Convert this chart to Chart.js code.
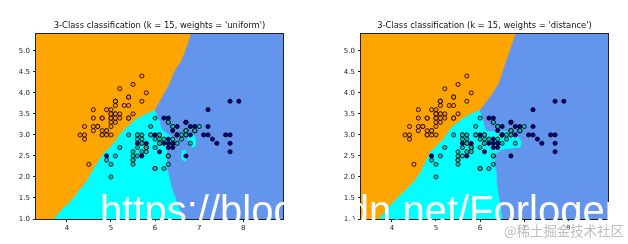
<!DOCTYPE html>
<html>
<head>
<meta charset="utf-8">
<script src="https://cdn.jsdelivr.net/npm/chart.js@4.4.0/dist/chart.umd.min.js"></script>
<style>
  body { margin: 0; background: #fff; }
  #page { position: relative; width: 628px; height: 244px; overflow: hidden; }
  .panel { position: absolute; top: 0; width: 314px; height: 244px; }
  #blogMark { position: absolute; left: 100px; top: 190px; font: 40px 'Liberation Sans', Arial, sans-serif; line-height: 40px; color: #fff; white-space: nowrap; }
  #siteMark { position: absolute; left: 504px; top: 222px; font: 13.4px 'Noto Sans CJK SC', sans-serif; line-height: 16px; color: #bdbdbd; white-space: nowrap; }
</style>
</head>
<body>
<div id="page">
  <div class="panel" style="left:0"><canvas id="knnUniform"></canvas></div>
  <div class="panel" style="left:314px"><canvas id="knnDistance"></canvas></div>
  <div id="blogMark">https://blog.csdn.net/Forlogen</div>
  <div id="siteMark">@稀土掘金技术社区</div>
</div>
<script>
// iris, sepal length (x) / sepal width (y)
const setosaX = [5.1,4.9,4.7,4.6,5.0,5.4,4.6,5.0,4.4,4.9,5.4,4.8,4.8,4.3,5.8,5.7,5.4,5.1,5.7,5.1,5.4,5.1,4.6,5.1,4.8,5.0,5.0,5.2,5.2,4.7,4.8,5.4,5.2,5.5,4.9,5.0,5.5,4.9,4.4,5.1,5.0,4.5,4.4,5.0,5.1,4.8,5.1,4.6,5.3,5.0];
const setosaY = [3.5,3.0,3.2,3.1,3.6,3.9,3.4,3.4,2.9,3.1,3.7,3.4,3.0,3.0,4.0,4.4,3.9,3.5,3.8,3.8,3.4,3.7,3.6,3.3,3.4,3.0,3.4,3.5,3.4,3.2,3.1,3.4,4.1,4.2,3.1,3.2,3.5,3.6,3.0,3.4,3.5,2.3,3.2,3.5,3.8,3.0,3.8,3.2,3.7,3.3];
const versicolorX = [7.0,6.4,6.9,5.5,6.5,5.7,6.3,4.9,6.6,5.2,5.0,5.9,6.0,6.1,5.6,6.7,5.6,5.8,6.2,5.6,5.9,6.1,6.3,6.1,6.4,6.6,6.8,6.7,6.0,5.7,5.5,5.5,5.8,6.0,5.4,6.0,6.7,6.3,5.6,5.5,5.5,6.1,5.8,5.0,5.6,5.7,5.7,6.2,5.1,5.7];
const versicolorY = [3.2,3.2,3.1,2.3,2.8,2.8,3.3,2.4,2.9,2.7,2.0,3.0,2.2,2.9,2.9,3.1,3.0,2.7,2.2,2.5,3.2,2.8,2.5,2.8,2.9,3.0,2.8,3.0,2.9,2.6,2.4,2.4,2.7,2.7,3.0,3.4,3.1,2.3,3.0,2.5,2.6,3.0,2.6,2.3,2.7,3.0,2.9,2.9,2.5,2.8];
const virginicaX = [6.3,5.8,7.1,6.3,6.5,7.6,4.9,7.3,6.7,7.2,6.5,6.4,6.8,5.7,5.8,6.4,6.5,7.7,7.7,6.0,6.9,5.6,7.7,6.3,6.7,7.2,6.2,6.1,6.4,7.2,7.4,7.9,6.4,6.3,6.1,7.7,6.3,6.4,6.0,6.9,6.7,6.9,5.8,6.8,6.7,6.7,6.3,6.5,6.2,5.9];
const virginicaY = [3.3,2.7,3.0,2.9,3.0,3.0,2.5,2.9,2.5,3.6,3.2,2.7,3.0,2.5,2.8,3.2,3.0,3.8,2.6,2.2,3.2,2.8,2.8,2.7,3.3,3.2,2.8,3.0,2.8,3.0,2.8,3.8,2.8,2.8,2.6,3.0,3.4,3.1,3.0,3.1,3.1,3.1,2.7,3.2,3.3,3.0,2.5,3.0,3.4,3.0];

const xRange = [3.3, 8.9];
const yRange = [1.0, 5.4];
const xTicks = [4, 5, 6, 7, 8];
const yTicks = [1.0, 1.5, 2.0, 2.5, 3.0, 3.5, 4.0, 4.5, 5.0];

// decision boundaries, bottom -> top
const uniformOrangeEdge = [[3.69,1.00],[3.83,1.18],[3.98,1.33],[4.13,1.49],[4.27,1.69],[4.43,1.89],[4.58,2.17],[4.69,2.36],[4.82,2.56],[4.95,2.69],[5.08,2.84],[5.23,3.07],[5.41,3.24],[5.57,3.39],[5.79,3.51],[5.98,3.59],[6.03,3.69],[6.11,3.83],[6.20,4.00],[6.29,4.16],[6.35,4.31],[6.38,4.40],[6.47,4.59],[6.59,4.78],[6.68,5.02],[6.80,5.40]];
const uniformCyanEdge = [[5.98,3.59],[6.02,3.50],[6.09,3.33],[6.13,3.16],[6.22,3.07],[6.34,2.97],[6.36,2.83],[6.29,2.69],[6.25,2.57],[6.25,2.40],[6.27,2.21],[6.32,1.98],[6.36,1.76],[6.43,1.57],[6.51,1.33],[6.59,1.14],[6.63,1.00]];
const uniformCyanIslands = [
    [[6.74,3.05],[6.82,3.06],[6.90,2.95],[6.92,2.76],[6.85,2.70],[6.78,2.78],[6.74,2.92]],
    [[6.60,2.62],[6.68,2.64],[6.72,2.52],[6.70,2.38],[6.63,2.40],[6.59,2.50]]
];

const distanceOrangeEdge = [[3.69,1.00],[3.73,1.05],[3.88,1.25],[4.03,1.41],[4.18,1.57],[4.34,1.73],[4.49,1.89],[4.64,2.12],[4.75,2.36],[4.86,2.60],[5.02,2.76],[5.17,2.92],[5.32,3.16],[5.54,3.35],[5.77,3.51],[5.98,3.59],[6.07,3.71],[6.19,3.87],[6.30,4.03],[6.41,4.23],[6.49,4.47],[6.56,4.70],[6.64,4.94],[6.72,5.18],[6.79,5.40]];
const distanceCyanEdge = [[5.98,3.59],[6.04,3.40],[6.09,3.21],[6.13,3.09],[6.34,3.07],[6.56,3.09],[6.72,3.02],[6.86,2.95],[6.93,2.83],[6.90,2.71],[6.72,2.69],[6.50,2.66],[6.36,2.57],[6.32,2.40],[6.34,2.17],[6.36,1.93],[6.41,1.57],[6.45,1.33],[6.50,1.00]];
const distanceCyanIslands = [];

const toXY = (pairs) => pairs.map((p) => ({x: p[0], y: p[1]}));
const irisXY = (xs, ys) => xs.map((x, i) => ({x: x, y: ys[i]}));

const plotFrame = {
    id: 'plotFrame',
    beforeDatasetsDraw: (chart) => {
        const {ctx, chartArea: a} = chart;
        ctx.save();
        ctx.fillStyle = '#6495ed';
        ctx.fillRect(a.left, a.top, a.width, a.height);
        ctx.restore();
    },
    afterDatasetsDraw: (chart) => {
        const {ctx, chartArea: a} = chart;
        ctx.save();
        ctx.strokeStyle = '#222';
        ctx.lineWidth = 1;
        ctx.strokeRect(Math.round(a.left) - 0.5, Math.round(a.top) - 0.5, Math.round(a.width) + 1, Math.round(a.height) + 1);
        ctx.restore();
    }
};

function region(pairs, color) {
    return {
        type: 'line',
        data: toXY(pairs),
        fill: 'shape',
        backgroundColor: color,
        borderColor: color,
        borderWidth: 1,
        pointRadius: 0,
        tension: 0,
        order: 2
    };
}

function iris(xs, ys, color) {
    return {
        type: 'scatter',
        data: irisXY(xs, ys),
        backgroundColor: color,
        borderColor: '#000',
        borderWidth: 0.8,
        pointRadius: 2.1,
        order: 0
    };
}

function makeChart(canvasId, title, orangeEdge, cyanEdge, islands, axisWidth, padRight) {
    const split = orangeEdge.findIndex((p) => p[0] === cyanEdge[0][0] && p[1] === cyanEdge[0][1]);
    const orangeShape = [[xRange[0], yRange[1]], [xRange[0], yRange[0]]].concat(orangeEdge);
    const cyanShape = orangeEdge.slice(0, split + 1).concat(cyanEdge.slice(1));

    const datasets = [
        iris(setosaX, setosaY, '#ff8c00'),
        iris(versicolorX, versicolorY, '#00bfbf'),
        iris(virginicaX, virginicaY, '#00008b'),
        region(orangeShape, '#ffa500'),
        region(cyanShape, '#00ffff')
    ].concat(islands.map((s) => region(s, '#00ffff')));

    const tickFont = {family: "'DejaVu Sans'", size: 7};

    const config = {
        type: 'scatter',
        data: {datasets: datasets},
        plugins: [plotFrame],
        options: {
            responsive: true,
            maintainAspectRatio: false,
            animation: false,
            devicePixelRatio: 1,
            layout: {padding: {left: 0, right: padRight, top: 0, bottom: 0}},
            plugins: {
                legend: {display: false},
                tooltip: {enabled: false},
                title: {
                    display: true,
                    text: title,
                    fullSize: false,
                    color: '#111',
                    font: {family: "'DejaVu Sans'", size: 8.4, weight: 'normal', lineHeight: '10px'},
                    padding: {top: 21, bottom: 3}
                }
            },
            scales: {
                x: {
                    type: 'linear',
                    min: xRange[0],
                    max: xRange[1],
                    afterBuildTicks: (scale) => { scale.ticks = xTicks.map((v) => ({value: v})); },
                    afterFit: (scale) => { scale.height = 25; },
                    grid: {drawOnChartArea: false, tickLength: 3, color: '#222'},
                    border: {display: false},
                    ticks: {font: tickFont, color: '#222', padding: 2, maxRotation: 0,
                        callback: (v) => String(v)}
                },
                y: {
                    type: 'linear',
                    min: yRange[0],
                    max: yRange[1],
                    afterBuildTicks: (scale) => { scale.ticks = yTicks.map((v) => ({value: v})); },
                    afterFit: (scale) => { scale.width = axisWidth; },
                    grid: {drawOnChartArea: false, tickLength: 3, color: '#222'},
                    border: {display: false},
                    ticks: {font: tickFont, color: '#222', padding: 3,
                        callback: (v) => v.toFixed(1)}
                }
            }
        }
    };

    return new Chart(document.getElementById(canvasId), config);
}

makeChart('knnUniform', "3-Class classification (k = 15, weights = 'uniform')",
    uniformOrangeEdge, uniformCyanEdge, uniformCyanIslands, 36, 31);
makeChart('knnDistance', "3-Class classification (k = 15, weights = 'distance')",
    distanceOrangeEdge, distanceCyanEdge, distanceCyanIslands, 47, 20);
</script>
</body>
</html>
